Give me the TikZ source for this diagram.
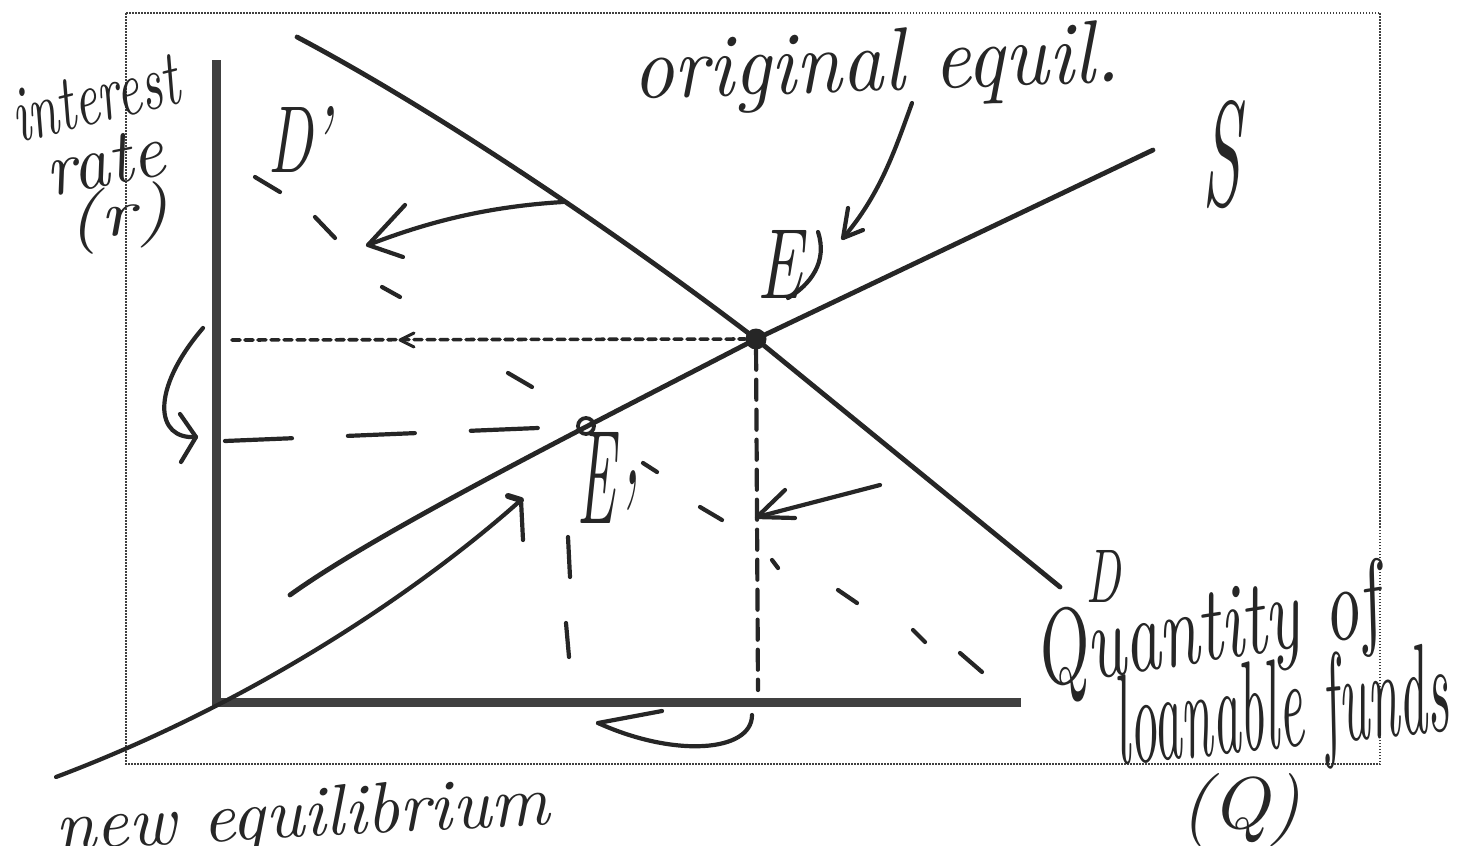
\documentclass[tikz,border=0pt]{standalone}
\usepackage{graphicx}
\usetikzlibrary{arrows.meta}
\begin{document}
\begin{tikzpicture}[x=1pt,y=-1pt,
  ink/.style={line width=4.2pt, line cap=round, line join=round, black!85},
  curveline/.style={line width=4.8pt, line cap=round, black!85},
  axisline/.style={line width=9pt, black!75},
  dsh/.style={line width=4.2pt, line cap=round, black!85},
  hand/.style={inner sep=0pt, anchor=base west, font=\itshape, text=black!85},
]
\useasboundingbox (0,0) rectangle (1462,846);
\fill[white] (0,0) rectangle (1462,846);
% frame of the scanned figure
\draw[black!75, line width=2.2pt, dash pattern=on 1.5pt off 1.5pt] (126,13) rectangle (1380,764);

% axes
\coordinate (ytop) at (216,60);
\coordinate (O) at (216,702);
\coordinate (xend) at (1021,702);
\draw[axisline] (ytop) -- (O) -- (xend);

% equilibrium points
\coordinate (Ec) at (756,339);
% demand D
\draw[curveline] (297,37) .. controls (450,118) and (640,250) .. (Ec) -- (1060,587);
% supply S
\draw[curveline] (290,595) .. controls (380,530) and (600,420) .. (Ec) -- (1153,150);

\node[circle, fill=black!85, inner sep=0pt, minimum size=21pt] (E) at (Ec) {};
\node[circle, draw=black!85, line width=3.8pt, inner sep=0pt, minimum size=16pt] (Ep) at (586,426) {};

% dotted line from y-axis to E
\coordinate (rE) at (232,340);
\draw[dsh, line width=3.6pt, dash pattern=on 8pt off 5pt] (rE) -- (E);
\draw[ink, line width=3pt] (414,333) -- (400,340) -- (414,347);
% vertical dashed from E to x-axis
\coordinate (qE) at (758,690);
\draw[dsh, dash pattern=on 20pt off 10pt] (E) -- (qE);
% long dashes at new interest rate
\coordinate (rEp) at (225,441);
\draw[dsh, dash pattern=on 67pt off 56pt] (rEp) -- (Ep);
% short dashes down from E'
\draw[dsh] (568,537) -- (570,577);
\draw[dsh] (566,623) -- (569,657);

% shifted demand D' (dashed)
\foreach \a/\b/\c/\d in {255/177/280/192, 315/217/335/238, 382/287/400/297, 508/373/532/387,
  643/463/657/472, 700/507/722/520, 772/560/778/568, 838/590/857/603, 913/630/925/642, 960/653/982/672}
  \draw[dsh] (\a,\b) -- (\c,\d);

% arrow D -> D'
\coordinate (a1s) at (563,202);
\coordinate (a1t) at (368,245);
\draw[ink] (a1s) .. controls (480,207) and (420,225) .. (a1t);
\draw[ink] (405,205) -- (a1t) -- (403,257);

% arrow original equil. -> E
\coordinate (a2s) at (912,103);
\coordinate (a2t) at (843,238);
\draw[ink] (a2s) .. controls (895,150) and (880,195) .. (a2t);
\draw[ink] (848,208) -- (a2t) -- (863,230);

% arrow to the vertical dashed line
\coordinate (a3s) at (880,485);
\coordinate (a3t) at (757,517);
\draw[ink] (a3s) -- (a3t);
\draw[ink] (785,490) -- (a3t) -- (795,518);

% arrow from "new equilibrium"
\coordinate (a4s) at (56,777);
\coordinate (a4t) at (521,500);
\draw[ink] (a4s) .. controls (255,702) and (420,590) .. (a4t);
\draw[ink] (a4t) -- (523,540);
\draw[ink, line width=6pt] (508,496) -- (a4t);

% bottom U-shaped arrow
\coordinate (a5s) at (752,715);
\coordinate (a5t) at (598,723);
\draw[ink] (a5s) .. controls (752,752) and (675,758) .. (a5t);
\draw[ink] (a5t) -- (662,711);

% left curved arrow
\coordinate (a6s) at (203,328);
\coordinate (a6t) at (196,437);
\draw[ink] (a6s) .. controls (150,390) and (155,440) .. (a6t);
\draw[ink] (180,414) -- (a6t) -- (181,462);

% stroke next to E label
\draw[ink] (818,232) .. controls (828,262) and (810,285) .. (788,298);

% labels
\node[hand, rotate=14] (lint) at (18,143) {\resizebox{170pt}{52pt}{interest}};
\node[hand, rotate=11] (lrate) at (50,197) {\resizebox{120pt}{48pt}{rate}};
\node[hand, rotate=8] (lr) at (68,242) {\resizebox{105pt}{48pt}{(r)}};
\node[hand] (lDp) at (268,172) {\resizebox{62pt}{66pt}{D'}};
\node[hand, rotate=2] (lorig) at (633,99) {\resizebox{487pt}{62pt}{original equil.}};
\node[hand] (lS) at (1202,205) {\resizebox{38pt}{105pt}{S}};
\node[hand] (lE) at (757,298) {\resizebox{45pt}{68pt}{E}};
\node[hand] (lEp) at (577,523) {\resizebox{55pt}{91pt}{E\raisebox{-.3em}{'}}};
\node[hand] (lD) at (1086,602) {\resizebox{34pt}{52pt}{D}};
\node[hand, rotate=9] (lq1) at (1038,688) {\resizebox{350pt}{75pt}{Quantity of}};
\node[hand, rotate=6] (lq2) at (1118,765) {\resizebox{335pt}{90pt}{loanable funds}};
\node[hand] (lq3) at (1180,828) {\resizebox{120pt}{55pt}{(Q)}};
\node[hand, rotate=3] (lnew) at (56,850) {\resizebox{495pt}{50pt}{new equilibrium}};
\end{tikzpicture}
\end{document}
